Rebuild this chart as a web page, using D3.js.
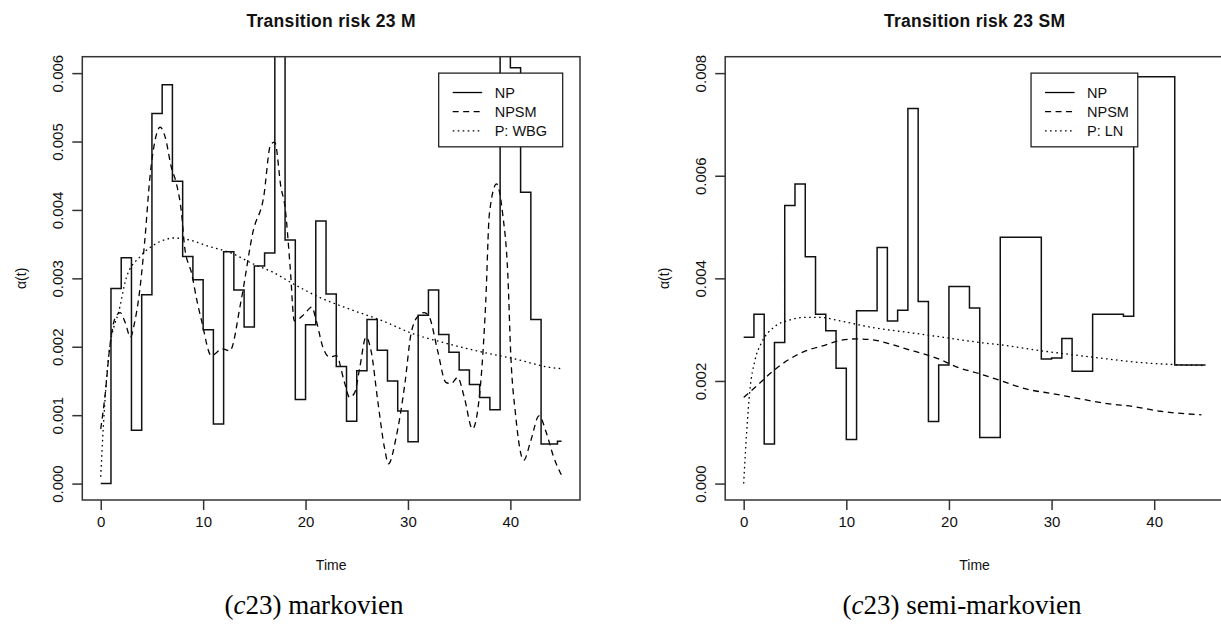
<!DOCTYPE html>
<html><head><meta charset="utf-8">
<script src="https://cdn.jsdelivr.net/npm/d3@7"></script>
<style>body{margin:0;background:#fff}svg{display:block}</style>
</head><body>
<svg id="c" width="1221" height="633"></svg>
<script>
// ---------------- DATA ----------------
const xTickValues = [0, 10, 20, 30, 40];
const yTicksLeft = [0, 0.001, 0.002, 0.003, 0.004, 0.005, 0.006];
const yTicksRight = [0, 0.002, 0.004, 0.006, 0.008];
const legendLabelsLeft = ["NP", "NPSM", "P: WBG"];
const legendLabelsRight = ["NP", "NPSM", "P: LN"];

// Left panel (markovien) - NP step estimator: breaks and interval values
const npLeftBreaks = [0,1,2,3,4,5,6,7,8,9,10,11,12,13,14,15,16,17,18,19,20,21,22,23,24,25,26,27,28,29,30,31,32,33,34,35,36,37,38,39,40,41,42,43,44.6,45];
const npLeftValues = [0,0.00285,0.00330,0.00078,0.00276,0.00541,0.00583,0.00442,0.00332,0.00298,0.00225,0.00087,0.00339,0.00283,0.00229,0.00318,0.00337,0.0089,0.00356,0.00123,0.00232,0.00384,0.00277,0.00171,0.00091,0.00165,0.00240,0.00195,0.00150,0.00106,0.00061,0.00246,0.00283,0.00218,0.00192,0.00166,0.00145,0.00126,0.00108,0.0079,0.00608,0.00426,0.00240,0.00058,0.00062];
// Left NPSM (dashed)
const npsmLeftT = [0,0.4,0.9,1.4,1.9,2.4,2.9,3.3,3.7,4.3,4.8,5.45,5.8,6.3,6.9,7.4,7.9,8.2,8.9,9.4,9.85,10.8,11.9,12.6,13.7,14.9,15.9,16.6,17.0,17.6,18.0,18.5,18.9,19.9,20.6,21.05,21.7,22.35,23.0,23.8,24.3,24.8,25.3,25.9,26.4,27.05,27.7,28.1,28.85,29.7,30.3,31.0,31.6,32.1,32.9,33.7,34.2,34.85,35.5,36.3,37.0,37.6,37.95,38.65,39.25,39.75,40.05,40.5,41.3,42.0,42.8,43.5,44.2,45];
const npsmLeftV = [0.00080,0.00126,0.00202,0.00242,0.00250,0.00235,0.00214,0.00235,0.00270,0.00355,0.00447,0.00511,0.00521,0.00506,0.00462,0.00438,0.00394,0.00345,0.00306,0.00267,0.00238,0.00187,0.00197,0.00194,0.00267,0.00370,0.00418,0.00496,0.00499,0.00433,0.00404,0.00316,0.00238,0.00248,0.00258,0.00238,0.00199,0.00185,0.00187,0.00148,0.00126,0.00133,0.00170,0.00214,0.00194,0.00121,0.00053,0.00029,0.00068,0.00146,0.00219,0.00245,0.00250,0.00243,0.00194,0.00148,0.00146,0.00155,0.00126,0.00080,0.00131,0.00267,0.00394,0.00438,0.00394,0.00306,0.00185,0.00102,0.00034,0.00063,0.00099,0.00075,0.00040,0.00012];
// Left parametric WBG (dotted)
const wbgT = [0,0.25,0.5,0.9,1.3,1.7,2.5,3.8,5.1,6.0,7.1,8.7,10.3,12.9,14.9,16.8,18.8,21.4,24.3,27.5,30.5,33.5,37.3,40.5,43.8,45];
const wbgV = [0.00010,0.00082,0.00140,0.00202,0.00230,0.00248,0.00301,0.00331,0.00348,0.00355,0.00359,0.00356,0.00348,0.00336,0.00321,0.00309,0.00292,0.00272,0.00255,0.00238,0.00219,0.00206,0.00192,0.00182,0.00170,0.00168];

// Right panel (semi-markovien) - NP step estimator
const npRightBreaks = [0,1,2,3,4,5,6,7,8,9,10,11,13,14,15,16,17,18,19,20,22,23,25,29,30,31,32,34,37,38,42,45];
const npRightValues = [0.00285,0.00330,0.00077,0.00275,0.00542,0.00584,0.00442,0.00330,0.00298,0.00225,0.00086,0.00337,0.00460,0.00317,0.00338,0.00731,0.00355,0.00121,0.00231,0.00384,0.00342,0.00090,0.00480,0.00243,0.00245,0.00283,0.00219,0.00330,0.00326,0.00793,0.00231];
// Right NPSM (dashed)
const npsmRightT = [0,1.3,2.9,4.5,6.1,7.8,9.4,11.0,12.6,14.3,15.9,17.5,19.1,20.8,23.0,25.0,27.6,30.2,32.8,35.4,38.0,40.6,44.6];
const npsmRightV = [0.00168,0.00191,0.00220,0.00243,0.00259,0.00269,0.00279,0.00282,0.00280,0.00272,0.00262,0.00253,0.00242,0.00227,0.00214,0.00201,0.00184,0.00175,0.00165,0.00156,0.00150,0.00141,0.00134];
// Right parametric LN (dotted)
const lnT = [0,0.3,0.6,1.1,1.75,2.9,4.5,6.1,7.4,9.4,12.6,15.9,19.5,23.0,25.6,28.9,32.1,35.4,38.6,41.9,45];
const lnV = [0,0.00103,0.00181,0.00240,0.00275,0.00304,0.00319,0.00324,0.00324,0.00317,0.00304,0.00295,0.00285,0.00275,0.00269,0.00259,0.00251,0.00243,0.00236,0.00232,0.00230];

// ---------------- LAYOUT ----------------
const FONT = "'Liberation Sans', Arial, Helvetica, sans-serif";
const svg = d3.select("#c");
svg.append("rect").attr("width",1221).attr("height",633).attr("fill","#fff");

function stepPoints(breaks, values){
  const pts = values.map((v,i)=>[breaks[i], v]);
  pts.push([breaks[breaks.length-1], values[values.length-1]]);
  return pts;
}

function panel(cfg){
  const {left, right, top, bottom, xDom, yDom, yTicks, title, legendAt, legendW, labels, id, np, npsm, param, caption, captionX} = cfg;
  const x = d3.scaleLinear().domain(xDom).range([left, right]);
  const y = d3.scaleLinear().domain(yDom).range([bottom, top]);
  const g = svg.append("g");

  svg.append("clipPath").attr("id", "clip"+id).append("rect")
    .attr("x", left).attr("y", top).attr("width", right-left).attr("height", bottom-top);

  const plot = g.append("g").attr("clip-path", `url(#clip${id})`);
  const lineStep = d3.line().x(d=>x(d[0])).y(d=>y(d[1])).curve(d3.curveStepAfter);
  const lineSmooth = d3.line().x(d=>x(d[0])).y(d=>y(d[1])).curve(d3.curveMonotoneX);

  plot.append("path").attr("d", lineSmooth(param)).attr("fill","none")
    .attr("stroke","#000").attr("stroke-width",1.3).attr("stroke-dasharray","1.6,3.4");
  plot.append("path").attr("d", lineSmooth(npsm)).attr("fill","none")
    .attr("stroke","#000").attr("stroke-width",1.3).attr("stroke-dasharray","6,4.5");
  plot.append("path").attr("d", lineStep(np)).attr("fill","none")
    .attr("stroke","#111").attr("stroke-width",1.5);

  // box
  g.append("rect").attr("x",left).attr("y",top).attr("width",right-left).attr("height",bottom-top)
    .attr("fill","none").attr("stroke","#333").attr("stroke-width",1.5);

  // x axis
  const xa = g.append("g").attr("transform",`translate(0,${bottom})`)
    .call(d3.axisBottom(x).tickValues(xTickValues).tickSize(10).tickPadding(6.5).tickFormat(d3.format("d")));
  xa.select(".domain").remove();
  xa.selectAll("line").attr("stroke","#333").attr("stroke-width",1.5);
  xa.selectAll("text").attr("font-family",FONT).attr("font-size",15).attr("fill","#111");

  // y axis
  const ya = g.append("g").attr("transform",`translate(${left},0)`)
    .call(d3.axisLeft(y).tickValues(yTicks).tickSize(10).tickFormat(d3.format(".3f")));
  ya.select(".domain").remove();
  ya.selectAll("line").attr("stroke","#333").attr("stroke-width",1.5);
  ya.selectAll("text").attr("font-family",FONT).attr("font-size",15).attr("fill","#111")
    .attr("x",null).attr("dy","0.36em").attr("text-anchor","middle")
    .attr("transform","translate(-24.5,0) rotate(-90)");

  // title
  g.append("text").attr("x",(left+right)/2).attr("y",27).attr("text-anchor","middle")
    .attr("font-family",FONT).attr("font-weight","bold").attr("font-size",17.5).attr("letter-spacing","0.3px")
    .attr("fill","#111").text(title);
  // axis titles
  g.append("text").attr("x",(left+right)/2).attr("y",570).attr("text-anchor","middle")
    .attr("font-family",FONT).attr("font-size",14).attr("fill","#111").text("Time");
  g.append("text").attr("transform",`translate(${left-61},${(top+bottom)/2}) rotate(-90)`)
    .attr("dy","0.36em").attr("text-anchor","middle")
    .attr("font-family",FONT).attr("font-size",14).attr("fill","#111").text("α(t)");

  // legend
  const lx = x(legendAt[0]), ly = y(legendAt[1]);
  const lg = g.append("g");
  lg.append("rect").attr("x",lx).attr("y",ly).attr("width",legendW).attr("height",73.7)
    .attr("fill","#fff").attr("stroke","#222").attr("stroke-width",1.3);
  const dashes = [null, "6,4.5", "1.6,3.4"];
  labels.forEach((lab,i)=>{
    const cy = ly + 19.4 + i*19.2;
    lg.append("line").attr("x1",lx+14).attr("x2",lx+43.5).attr("y1",cy).attr("y2",cy)
      .attr("stroke","#000").attr("stroke-width",1.3).attr("stroke-dasharray",dashes[i]);
    lg.append("text").attr("x",lx+56).attr("y",cy).attr("dy","0.36em")
      .attr("font-family",FONT).attr("font-size",14.5).attr("fill","#111").text(lab);
  });

  // caption
  const cap = svg.append("text").attr("x",captionX).attr("y",614).attr("text-anchor","middle")
    .attr("font-family","'Liberation Serif', 'Times New Roman', serif").attr("font-size",27).attr("fill","#000");
  cap.append("tspan").text("(");
  cap.append("tspan").attr("font-style","italic").text("c");
  cap.append("tspan").text("23) " + caption);
}

panel({
  id: "L", left: 82.3, right: 580, top: 56.7, bottom: 500,
  xDom: [-1.8, 46.8], yDom: [-0.00024, 0.00624], yTicks: yTicksLeft,
  title: "Transition risk 23 M", legendAt: [33, 0.006], legendW: 124, labels: legendLabelsLeft,
  np: stepPoints(npLeftBreaks, npLeftValues),
  npsm: npsmLeftT.map((t,i)=>[t, npsmLeftV[i]]),
  param: wbgT.map((t,i)=>[t, wbgV[i]]),
  caption: "markovien", captionX: 314
});
panel({
  id: "R", left: 725.2, right: 1224, top: 56.7, bottom: 500,
  xDom: [-1.8, 46.8], yDom: [-0.00032, 0.00832], yTicks: yTicksRight,
  title: "Transition risk 23 SM", legendAt: [28, 0.008], legendW: 106.7, labels: legendLabelsRight,
  np: stepPoints(npRightBreaks, npRightValues),
  npsm: npsmRightT.map((t,i)=>[t, npsmRightV[i]]),
  param: lnT.map((t,i)=>[t, lnV[i]]),
  caption: "semi-markovien", captionX: 962
});
</script>
</body></html>
